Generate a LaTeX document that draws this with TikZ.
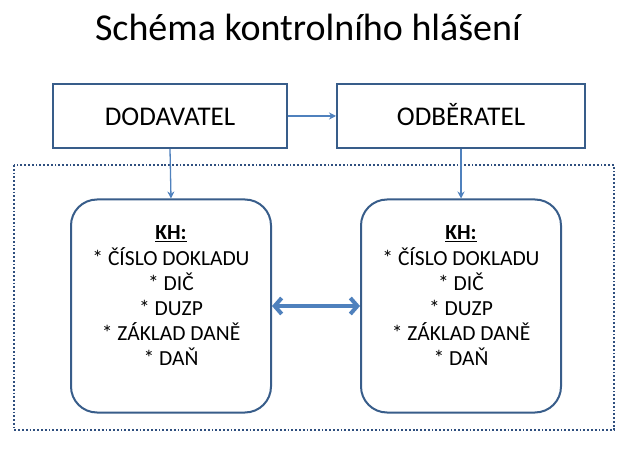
\documentclass[tikz,border=0pt]{standalone}
\usepackage{fontspec}
\setmainfont{Carlito}
\usetikzlibrary{positioning, arrows.meta}

\definecolor{obrys}{HTML}{385D8A}
\definecolor{modra}{HTML}{4F81BD}
\definecolor{ramecmodra}{HTML}{2F4F7F}

\begin{document}
\begin{tikzpicture}[x=1bp, y=-1bp,
      subjekt/.style={draw=obrys, line width=2bp, minimum width=233bp, minimum height=64bp, inner sep=0pt, text height=20bp, text depth=0bp, font=\fontsize{27bp}{32bp}\selectfont},
      khblok/.style={draw=obrys, line width=2bp, rounded corners=26bp, align=center, minimum width=200bp, minimum height=213bp, inner sep=0pt, font=\fontsize{21.5bp}{25.2bp}\selectfont},
      ramec/.style={draw=ramecmodra, line width=1.8bp, dotted},
      sipka/.style={-{Stealth[length=7bp, width=7bp]}, draw=modra, line width=1.3bp},
      dsipka/.style={{Straight Barb[length=7bp, width=16bp]}-{Straight Barb[length=7bp, width=16bp]}, draw=modra, line width=4bp}
    ]

    % ─── background / size ───────────────────────────────────────
    \fill[white] (0,0) rectangle (630,450);
    \useasboundingbox (0,0) rectangle (630,450);

    % ─── Title ───────────────────────────────────────────────────
    \node[anchor=base, font=\fontsize{38bp}{44bp}\selectfont] (titul) at (308,41) {Schéma kontrolního hlášení};

    % ─── Dotted frame ────────────────────────────────────────────
    \draw[ramec] (14,165) rectangle (614,430);

    % ─── Subjects (top row) ──────────────────────────────────────
    \node[subjekt] (dod) at (170,116) {DODAVATEL};
    \node[subjekt, minimum width=248bp] (odb) at (461,116) {ODBĚRATEL};

    % ─── KH blocks ───────────────────────────────────────────────
    \node[khblok] (khdod) at (171,306) {\textbf{\underline{KH:}}\\ * ČÍSLO DOKLADU\\ * DIČ\\ * DUZP\\ * ZÁKLAD DANĚ\\ * DAŇ\rule[-20bp]{0pt}{0pt}};
    \node[khblok] (khodb) at (461,306) {\textbf{\underline{KH:}}\\ * ČÍSLO DOKLADU\\ * DIČ\\ * DUZP\\ * ZÁKLAD DANĚ\\ * DAŇ\rule[-20bp]{0pt}{0pt}};

    % ─── Arrows ──────────────────────────────────────────────────
    \draw[sipka] (dod) -- (odb);
    \draw[sipka] (dod.south) -- (khdod.north);
    \draw[sipka] (odb.south) -- (khodb.north);

    % KH <-> KH
    \draw[dsipka] (khdod) -- (khodb);

    \end{tikzpicture}
\end{document}
